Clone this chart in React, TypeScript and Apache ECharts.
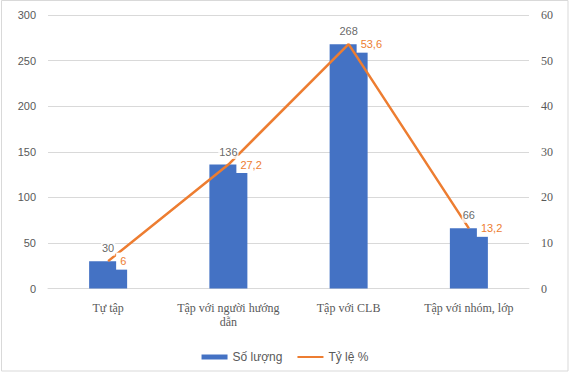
import React, { useEffect, useRef } from "react";
import * as echarts from "echarts";

const categories = ["Tự tập", "Tập với người hướng dẫn", "Tập với CLB", "Tập với nhóm, lớp"];
const soLuong = [30, 136, 268, 66];
const tyLe = [6, 27.2, 53.6, 13.2];
const leftTicks = { min: 0, max: 300, interval: 50 };
const rightTicks = { min: 0, max: 60, interval: 10 };

const BLUE = "#4472C4";
const ORANGE = "#ED7D31";
const GRAY = "#595959";
const SANS = "'Liberation Sans', Arial, sans-serif";
const SERIF = "'Liberation Serif', 'Times New Roman', serif";

export default function App() {
  const ref = useRef<HTMLDivElement>(null);
  useEffect(() => {
    document.body.style.margin = "0";
    const chart = echarts.init(ref.current!, null, { renderer: "svg" });
    chart.setOption({
      animation: false,
      backgroundColor: "#fff",
      graphic: [
        {
          type: "rect",
          shape: { x: 1.5, y: 0.5, width: 566.5, height: 370.5 },
          style: { fill: "none", stroke: "#d9d9d9", lineWidth: 1 },
          silent: true,
          z: 0,
        },
      ],
      grid: { left: 48, right: 41, top: 15, bottom: 84.5, containLabel: false },
      legend: {
        data: [
          { name: "Số lượng", icon: "rect" },
          { name: "Tỷ lệ %", itemStyle: { opacity: 0 } },
        ],
        top: 346,
        left: "center",
        itemWidth: 26,
        itemHeight: 5,
        itemGap: 14,
        textStyle: { fontFamily: SANS, fontSize: 12, color: GRAY },
      },
      xAxis: {
        type: "category",
        data: categories,
        axisTick: { show: false },
        axisLine: { lineStyle: { color: "#d9d9d9" } },
        axisLabel: {
          fontFamily: SERIF,
          fontSize: 12,
          color: GRAY,
          margin: 12,
          lineHeight: 14,
          interval: 0,
          formatter: (v: string) => (v.length > 20 ? v.replace(/ (\S+)$/, "\n$1") : v),
        },
      },
      yAxis: [
        {
          type: "value",
          ...leftTicks,
          axisLine: { show: false },
          axisTick: { show: false },
          splitLine: { lineStyle: { color: "#d9d9d9" } },
          axisLabel: { fontFamily: SANS, fontSize: 11, color: GRAY, margin: 12 },
        },
        {
          type: "value",
          ...rightTicks,
          axisLine: { show: false },
          axisTick: { show: false },
          splitLine: { show: false },
          axisLabel: { fontFamily: SERIF, fontSize: 12, color: GRAY, margin: 12 },
        },
      ],
      series: [
        {
          name: "Số lượng",
          type: "bar",
          data: soLuong,
          barWidth: 38,
          itemStyle: { color: BLUE },
          z: 2,
        },
        {
          name: "Tỷ lệ %",
          type: "line",
          yAxisIndex: 1,
          data: tyLe,
          symbol: "circle",
          symbolSize: 0.01,
          showSymbol: true,
          lineStyle: { color: ORANGE, width: 2.5 },
          itemStyle: { color: ORANGE },
          z: 3,
          label: {
            show: true,
            position: "right",
            distance: 8,
            fontFamily: SANS,
            fontSize: 11,
            lineHeight: 13,
            color: ORANGE,
            backgroundColor: "#fff",
            padding: [2, 4],
            formatter: (p: any) => String(p.value).replace(".", ","),
          },
        },
        {
          name: "labels",
          type: "scatter",
          data: soLuong,
          symbolSize: 1,
          itemStyle: { color: "rgba(0,0,0,0)" },
          silent: true,
          z: 5,
          label: {
            show: true,
            position: "top",
            distance: 5,
            fontFamily: SANS,
            fontSize: 11,
            lineHeight: 13,
            color: "#404040",
            backgroundColor: "#fff",
            padding: [1, 1],
          },
        },
      ],
    });
    return () => chart.dispose();
  }, []);
  return <div ref={ref} style={{ width: 570, height: 373 }} />;
}
